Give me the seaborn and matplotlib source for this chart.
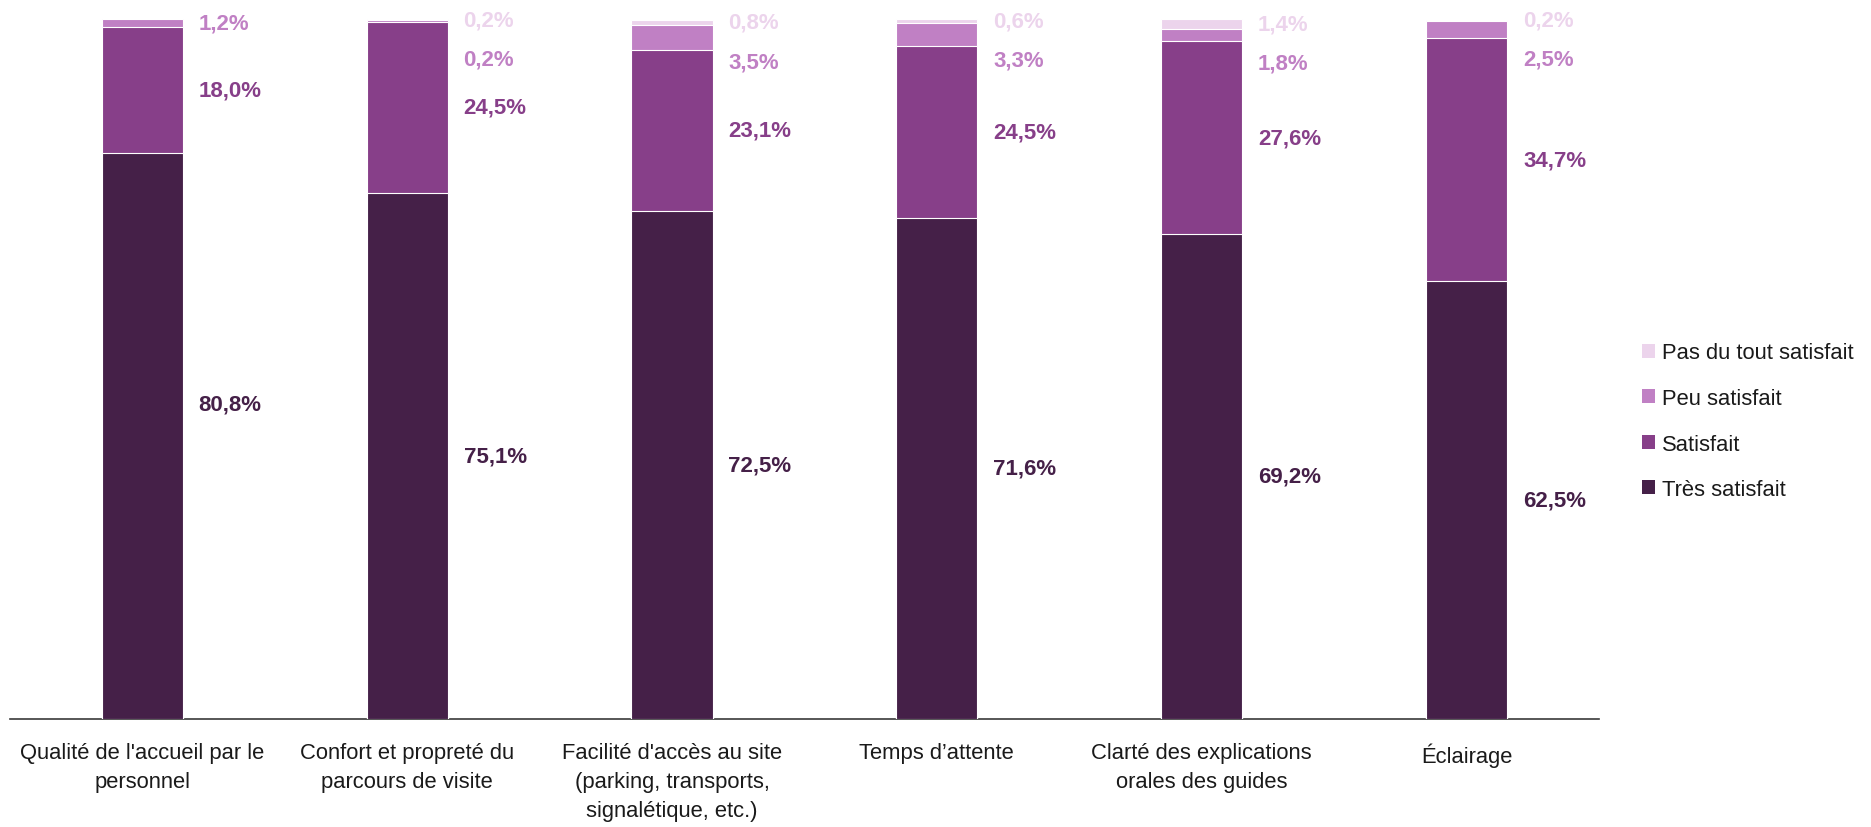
import matplotlib
matplotlib.use("Agg")
import matplotlib.pyplot as plt
import seaborn as sns
import numpy as np
import pandas as pd
from matplotlib.patches import Patch

# ---------------- data ----------------
categories = [
    "Qualité de l'accueil par le\npersonnel",
    "Confort et propreté du\nparcours de visite",
    "Facilité d'accès au site\n(parking, transports,\nsignalétique, etc.)",
    "Temps d’attente",
    "Clarté des explications\norales des guides",
    "Éclairage",
]
series_names = ["Très satisfait", "Satisfait", "Peu satisfait", "Pas du tout satisfait"]
tres_satisfait = [80.8, 75.1, 72.5, 71.6, 69.2, 62.5]
satisfait = [18.0, 24.5, 23.1, 24.5, 27.6, 34.7]
peu_satisfait = [1.2, 0.2, 3.5, 3.3, 1.8, 2.5]
pas_du_tout = [0.0, 0.2, 0.8, 0.6, 1.4, 0.2]

colors = ["#452048", "#873f89", "#c080c4", "#ecd4ec"]

# ---------------- style ----------------
sns.set_theme(style="white")
plt.rcParams["font.family"] = ["Liberation Sans Narrow", "Liberation Sans", "DejaVu Sans"]

fig = plt.figure(figsize=(18.71, 8.28), dpi=100)
ax = fig.add_axes([0.0053, 0.131, 0.8493, 0.845])

values = [tres_satisfait, satisfait, peu_satisfait, pas_du_tout]
cum = np.cumsum(np.array(values), axis=0)

df = pd.DataFrame({"cat": categories})
bar_width = 0.306
# draw cumulative totals, from the top series down, so each layer overlaps the previous
for k in range(len(series_names) - 1, -1, -1):
    df["v"] = cum[k]
    sns.barplot(data=df, x="cat", y="v", order=categories, color=colors[k],
                width=bar_width, saturation=1, edgecolor="white", linewidth=0.8,
                ax=ax, zorder=2 + (3 - k))

ax.set_ylim(0, 100)
ax.set_xlim(-0.5, len(categories) - 0.5)
ax.set_ylabel("")
ax.set_xlabel("")
ax.set_yticks([])
for s in ["top", "right", "left"]:
    ax.spines[s].set_visible(False)
ax.spines["bottom"].set_color("#3a3a3a")
ax.spines["bottom"].set_linewidth(1.2)
ax.tick_params(axis="x", length=0, pad=17, labelsize=15.8, labelcolor="#1a1a1a")
for lbl in ax.get_xticklabels():
    lbl.set_linespacing(1.5)

# ---------------- labels ----------------
label_gap = 5.6
label_nudge = {(0, 0): 4.5}
for i in range(len(categories)):
    prev = None
    for k in range(len(series_names) - 1, -1, -1):
        v = values[k][i]
        if v <= 0:
            continue
        mid = cum[k][i] - v / 2
        y = mid if prev is None else min(mid, prev - label_gap)
        prev = y
        y += label_nudge.get((i, k), 0)
        ax.text(i + bar_width / 2 + 0.06, y, f"{v:.1f}%".replace(".", ","),
                ha="left", va="center", fontsize=16, fontweight="bold",
                color=colors[k], zorder=10)

# ---------------- legend ----------------
handles = [Patch(facecolor=colors[k], edgecolor="none", label=series_names[k])
           for k in range(len(series_names) - 1, -1, -1)]
fig.legend(handles=handles, loc="center left", bbox_to_anchor=(0.867, 0.49),
           frameon=False, fontsize=15.8, handlelength=0.6, handleheight=0.6,
           handletextpad=0.3, labelspacing=1.12, labelcolor="#1a1a1a")

fig.savefig("out.png", dpi=100)
